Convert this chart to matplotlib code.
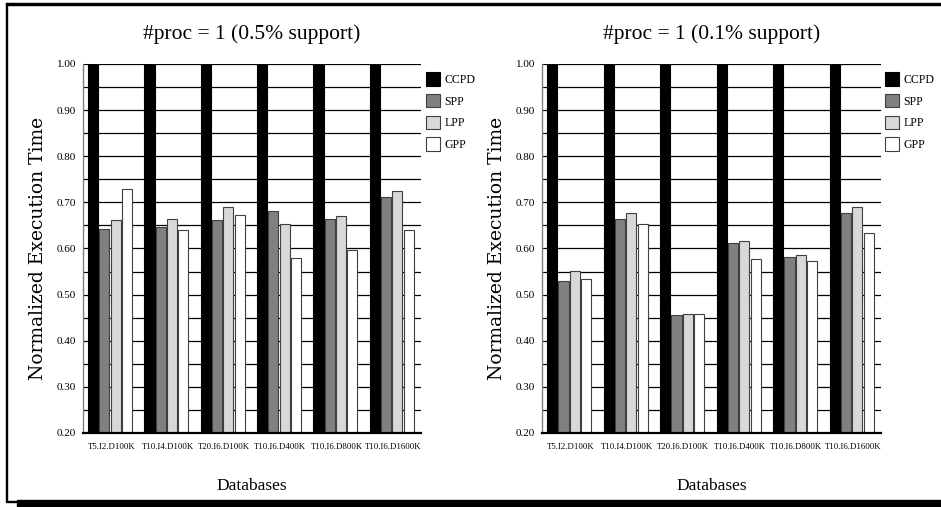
import numpy as np
import matplotlib
matplotlib.use('Agg')
import matplotlib.pyplot as plt
from matplotlib.patches import Rectangle

# Databases on the x axis and the four schemes
databases = ['T5.I2.D100K', 'T10.I4.D100K', 'T20.I6.D100K',
             'T10.I6.D400K', 'T10.I6.D800K', 'T10.I6.D1600K']
schemes = ['CCPD', 'SPP', 'LPP', 'GPP']

# Normalized execution time, 0.5% support
ccpd_05 = [1.00, 1.00, 1.00, 1.00, 1.00, 1.00]
spp_05 = [0.643, 0.646, 0.661, 0.682, 0.663, 0.711]
lpp_05 = [0.661, 0.663, 0.690, 0.654, 0.670, 0.724]
gpp_05 = [0.730, 0.641, 0.672, 0.579, 0.597, 0.641]

# Normalized execution time, 0.1% support
ccpd_01 = [1.00, 1.00, 1.00, 1.00, 1.00, 1.00]
spp_01 = [0.529, 0.663, 0.456, 0.612, 0.581, 0.678]
lpp_01 = [0.552, 0.676, 0.458, 0.616, 0.585, 0.689]
gpp_01 = [0.534, 0.652, 0.458, 0.577, 0.572, 0.633]

titles = ['#proc = 1 (0.5% support)', '#proc = 1 (0.1% support)']
colors = ['#000000', '#808080', '#d8d8d8', '#ffffff']

serif = ['Liberation Serif', 'DejaVu Serif']

fig = plt.figure(figsize=(9.41, 5.07), dpi=100)

panels = [
    ([ccpd_05, spp_05, lpp_05, gpp_05], [0.0882, 0.146, 0.3592, 0.7278], 0.4527),
    ([ccpd_01, spp_01, lpp_01, gpp_01], [0.5760, 0.146, 0.3603, 0.7278], 0.9405),
]

x = np.arange(len(databases))
for k, (series, rect, leg_x) in enumerate(panels):
    ax = fig.add_axes(rect)
    for j, vals in enumerate(series):
        ax.bar(x + 0.09 + 0.2 * j, np.array(vals) - 0.2, bottom=0.2, width=0.18,
               align='edge', color=colors[j],
               edgecolor='#000000' if j == 0 else '#404040',
               linewidth=0.8, label=schemes[j], zorder=2)
    ax.set_xlim(0, len(databases))
    ax.set_ylim(0.2, 1.0)
    ax.set_yticks(np.arange(0.2, 1.001, 0.1))
    ax.set_yticks(np.arange(0.25, 1.0, 0.1), minor=True)
    ax.set_yticklabels(['%.2f' % v for v in np.arange(0.2, 1.001, 0.1)],
                       fontsize=8, family=serif)
    ax.set_xticks(x + 0.5)
    ax.set_xticklabels(databases, fontsize=6.3, family=serif)
    ax.tick_params(axis='both', which='both', length=0, pad=5)
    ax.tick_params(axis='x', pad=7)
    ax.yaxis.grid(True, which='both', color='black', linewidth=0.9, zorder=1)
    ax.set_axisbelow(True)
    for s in ['top', 'right']:
        ax.spines[s].set_visible(False)
    ax.spines['left'].set_color('#808080')
    ax.spines['left'].set_linewidth(1.0)
    ax.spines['bottom'].set_linewidth(1.6)

    ax.set_title(titles[k], fontsize=15.5, family=serif, pad=18)
    ax.set_xlabel('Databases', fontsize=12.5, family=serif, labelpad=20)
    ax.set_ylabel('Normalized Execution Time', fontsize=13.5,
                  family=['DejaVu Serif'], labelpad=7)

    fig.legend(*ax.get_legend_handles_labels(), loc='upper left',
               bbox_to_anchor=(leg_x, 0.858), frameon=False,
               prop={'family': serif, 'size': 8.5}, borderpad=0,
               borderaxespad=0, handlelength=1.15, handleheight=1.4,
               labelspacing=0.68, handletextpad=0.4)

# page frame with shadow
fig.patches.append(Rectangle((6 / 941, 1 - 501 / 507), 1.5 / 941, 498 / 507,
                             transform=fig.transFigure, color='black'))
fig.patches.append(Rectangle((6 / 941, 1 - 5 / 507), 935 / 941, 2 / 507,
                             transform=fig.transFigure, color='black'))
fig.patches.append(Rectangle((6 / 941, 1 - 502 / 507), 11 / 941, 1.5 / 507,
                             transform=fig.transFigure, color='black'))
fig.patches.append(Rectangle((17 / 941, 0), 924 / 941, 7 / 507,
                             transform=fig.transFigure, color='black'))

fig.savefig('out.png', dpi=100)
